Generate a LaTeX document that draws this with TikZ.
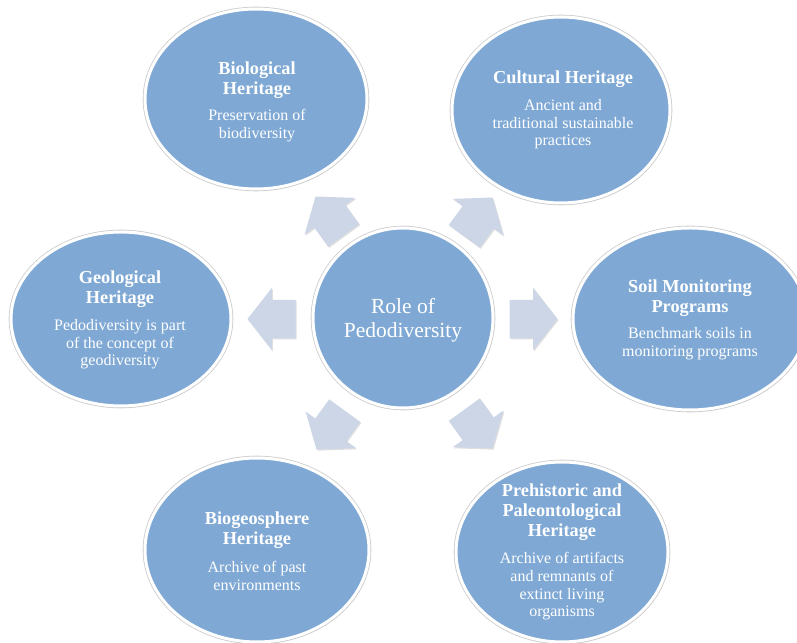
\documentclass[tikz,border=0pt]{standalone}
\usepackage{fontspec}
\setmainfont{Liberation Serif}
\usetikzlibrary{shapes.geometric,shapes.arrows,shadows}
\definecolor{ellfill}{HTML}{7FA9D4}
\definecolor{arrfill}{HTML}{CCD6E7}
\tikzset{
  ell/.style={ellipse, fill=ellfill, draw=white, line width=3pt, inner sep=0pt,
    preaction={draw=black!20, line width=4.6pt},
    drop shadow={shadow xshift=1pt, shadow yshift=-1.5pt, opacity=0.18}},
  ttl/.style={anchor=north, align=center, text=white, inner sep=0pt,
    font=\bfseries\fontsize{18.3}{20}\selectfont},
  bdy/.style={anchor=north, align=center, text=white, inner sep=0pt,
    font=\fontsize{16}{17.8}\selectfont},
  blk/.style={single arrow, single arrow head extend=12pt, single arrow tip angle=104,
    minimum height=48pt, minimum width=0pt, inner xsep=0pt, inner ysep=19pt,
    fill=arrfill, draw=none,
    drop shadow={shadow xshift=1pt, shadow yshift=-1.2pt, opacity=0.25}}
}
\begin{document}
\begin{tikzpicture}[x=1pt,y=1pt]
\useasboundingbox (0,0) rectangle (797,642);
\fill[white] (0,0) rectangle (797,642);

% block arrows
\node[blk, rotate=180] (aw) at (279,323) {};
\node[blk, rotate=0]   (ae) at (526,323) {};
\node[blk, rotate=126] (anw) at (334,420) {};
\node[blk, rotate=54]  (ane) at (474,419) {};
\node[blk, rotate=234] (asw) at (335,218) {};
\node[blk, rotate=306] (ase) at (474,219) {};

% centre
\node[ell, minimum width=180pt, minimum height=180pt] (c) at (403,324) {};
\node[anchor=north, align=center, text=white, inner sep=0pt,
      font=\fontsize{21.5}{24.5}\selectfont] (c-t) at (403,344) {Role of\\Pedodiversity};

% satellites
\node[ell, minimum width=222pt, minimum height=180pt] (bio) at (256,543) {};
\node[ttl] (bio-t) at (257,580) {Biological\\Heritage};
\node[bdy] (bio-b) at (257,533) {Preservation of\\biodiversity};

\node[ell, minimum width=218pt, minimum height=186pt] (cul) at (561,532) {};
\node[ttl] (cul-t) at (563,571) {Cultural Heritage};
\node[bdy] (cul-b) at (563,543) {Ancient and\\traditional sustainable\\practices};

\node[ell, minimum width=220pt, minimum height=174pt] (geo) at (121,323) {};
\node[ttl] (geo-t) at (120,371) {Geological\\Heritage};
\node[bdy] (geo-b) at (120,323) {Pedodiversity is part\\of the concept of\\geodiversity};

\node[ell, minimum width=234pt, minimum height=182pt] (soil) at (690,323) {};
\node[ttl] (soil-t) at (690,362) {Soil Monitoring\\Programs};
\node[bdy] (soil-b) at (690,315) {Benchmark soils in\\monitoring programs};

\node[ell, minimum width=224pt, minimum height=184pt] (bgs) at (257,92) {};
\node[ttl] (bgs-t) at (257,130) {Biogeosphere\\Heritage};
\node[bdy] (bgs-b) at (257,81) {Archive of past\\environments};

\node[ell, minimum width=212pt, minimum height=180pt] (pre) at (562,90) {};
\node[ttl] (pre-t) at (562,158) {Prehistoric and\\Paleontological\\Heritage};
\node[bdy] (pre-b) at (562,90) {Archive of artifacts\\and remnants of\\extinct living\\organisms};
\end{tikzpicture}
\end{document}
